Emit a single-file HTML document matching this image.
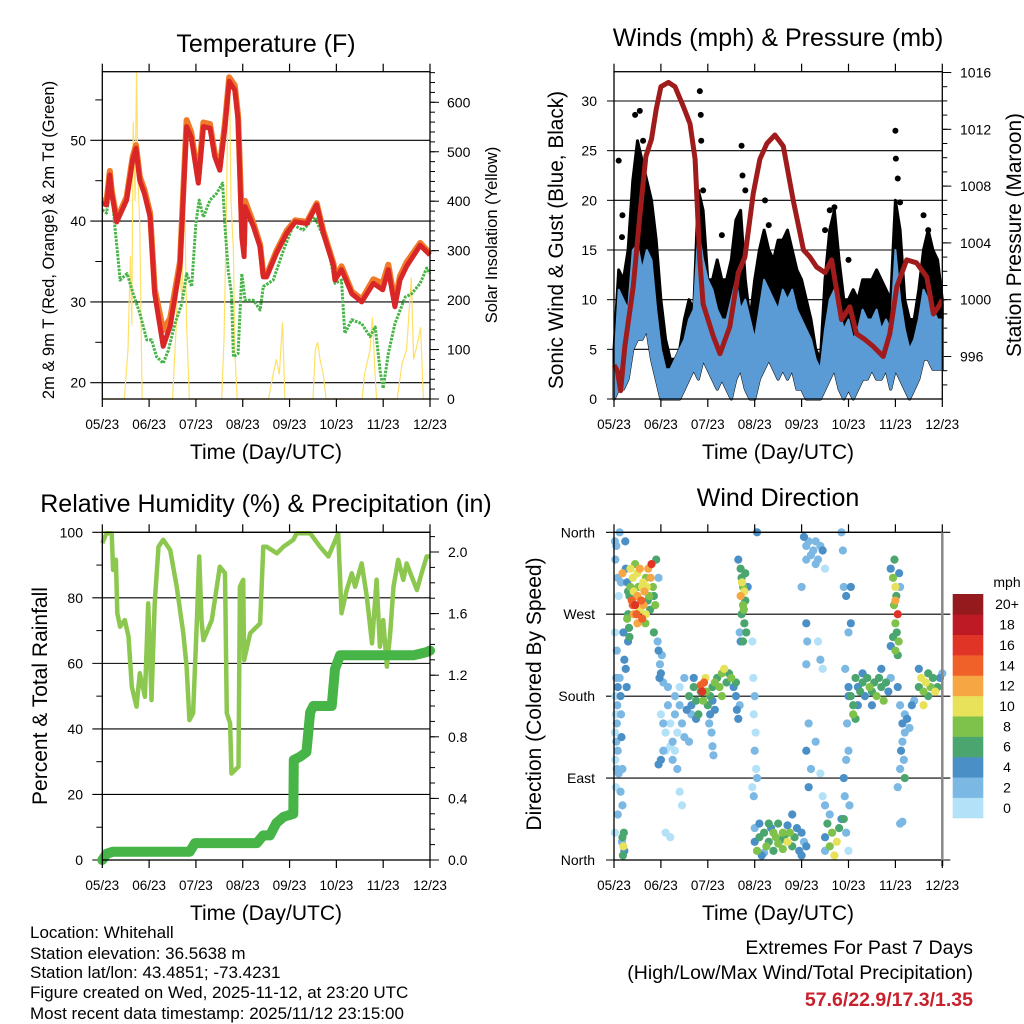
<!DOCTYPE html>
<html><head><meta charset="utf-8">
<style>
html,body{margin:0;padding:0;background:#fff;}
svg{display:block;font-family:"Liberation Sans",Arial,sans-serif;}
</style></head>
<body>
<svg id="chart" width="1024" height="1024" viewBox="0 0 1024 1024">
<g id="titles">
<text x="266" y="52" font-size="25" text-anchor="middle">Temperature (F)</text>
<text x="778" y="46" font-size="25" text-anchor="middle">Winds (mph) &amp; Pressure (mb)</text>
<text x="266" y="512" font-size="25" text-anchor="middle">Relative Humidity (%) &amp; Precipitation (in)</text>
<text x="778" y="506" font-size="25" text-anchor="middle">Wind Direction</text>
<text x="266" y="459" font-size="21" text-anchor="middle">Time (Day/UTC)</text>
<text x="778" y="459" font-size="21" text-anchor="middle">Time (Day/UTC)</text>
<text x="266" y="920" font-size="21" text-anchor="middle">Time (Day/UTC)</text>
<text x="778" y="920" font-size="21" text-anchor="middle">Time (Day/UTC)</text>
<text transform="translate(54,240) rotate(-90)" font-size="16.5" text-anchor="middle">2m &amp; 9m T (Red, Orange) &amp; 2m Td (Green)</text>
<text transform="translate(497,235) rotate(-90)" font-size="16.5" text-anchor="middle">Solar Insolation (Yellow)</text>
<text transform="translate(563,240) rotate(-90)" font-size="20.8" text-anchor="middle">Sonic Wind &amp; Gust (Blue, Black)</text>
<text transform="translate(1021,235) rotate(-90)" font-size="20.8" text-anchor="middle">Station Pressure (Maroon)</text>
<text transform="translate(47,696) rotate(-90)" font-size="21" text-anchor="middle">Percent &amp; Total Rainfall</text>
<text transform="translate(541,694) rotate(-90)" font-size="21" text-anchor="middle">Direction (Colored By Speed)</text>
</g>
<g font-size="17">
<text x="30" y="938">Location: Whitehall</text>
<text x="30" y="959">Station elevation: 36.5638 m</text>
<text x="30" y="978">Station lat/lon: 43.4851; -73.4231</text>
<text x="30" y="998">Figure created on Wed, 2025-11-12, at 23:20 UTC</text>
<text x="30" y="1019">Most recent data timestamp: 2025/11/12 23:15:00</text>
</g>
<g text-anchor="end">
<text x="973" y="954" font-size="19.5">Extremes For Past 7 Days</text>
<text x="973" y="979" font-size="19.5">(High/Low/Max Wind/Total Precipitation)</text>
<text x="973" y="1006" font-size="19.5" font-weight="bold" fill="#c8202c">57.6/22.9/17.3/1.35</text>
</g>
</svg>
<script>
// ---------- data ----------
const monthLabels = ["05/23","06/23","07/23","08/23","09/23","10/23","11/23","12/23"];
// Temperature panel
const tempRedT = [0,0.09,0.16,0.2,0.31,0.52,0.65,0.72,0.8,0.9,1.02,1.12,1.3,1.45,1.66,1.8,1.9,2.05,2.16,2.3,2.4,2.51,2.62,2.71,2.83,2.9,2.98,3.03,3.05,3.23,3.37,3.44,3.51,3.72,3.94,4.12,4.37,4.58,4.72,4.94,4.97,5.11,5.33,5.54,5.79,5.99,6.11,6.25,6.36,6.5,6.79,7];
const tempRedV = [42.2,42,45.7,43.4,39.9,42.6,47.6,49,45,43.4,40.5,31,24.5,27,34.4,51.7,50.4,44.7,51.7,51.5,48,46.3,51.7,57.3,56.2,52.5,38,35.6,41.8,39.3,36.8,33.1,33.1,36,38.5,39.9,39.7,42,38.5,34.4,32.7,34,31,30,32.3,31.5,34,29.4,32.7,34.4,37,35.8];
const tempOrangeV = [42.6,42.4,46.2,43.8,40.2,43,48,49.4,45.5,43.9,41,31.6,26.5,28,35,52.5,51,45.2,52.2,52,48.4,46.8,52.2,57.8,56.8,53,40,37,42.5,39.7,37.1,33.4,33.3,36.3,38.8,40.1,39.9,42.2,38.8,34.7,33,34.4,31.3,30.3,32.8,32.3,34.6,30,33.2,34.9,37.3,36];
const dewT = [0,0.09,0.19,0.27,0.34,0.38,0.53,0.66,0.8,0.95,1.05,1.16,1.3,1.41,1.55,1.7,1.8,1.91,2,2.07,2.16,2.3,2.44,2.57,2.62,2.69,2.76,2.8,2.9,2.98,3.05,3.23,3.37,3.44,3.65,3.87,4.08,4.29,4.54,4.72,4.86,4.97,5.11,5.18,5.33,5.54,5.72,5.83,5.94,6,6.11,6.25,6.47,6.61,6.79,6.93,7];
const dewV = [41.4,41,44.5,39.3,35.2,32.7,33.5,31,28.6,25.3,25.3,23.2,22.4,24,27.3,29.8,33.5,31.9,39.7,42.6,40.5,42.6,43.4,44.7,39.3,33.9,31,23.2,23.6,33.5,30.2,30.2,29,31.9,32.7,36.4,39.5,38.9,40.5,38.1,35.6,32.3,32.7,26.1,27.8,27.3,25.7,26.9,21.2,19.3,23.6,27.3,30.6,31,32.3,34.2,33.5];
const solarT = [0,0.47,0.55,0.6,0.63,0.66,0.7,0.73,0.76,0.8,0.85,1.5,1.58,1.63,1.7,1.75,1.8,1.86,2.55,2.6,2.64,2.68,2.72,2.75,2.8,2.83,2.88,3.55,3.65,3.72,3.78,3.85,3.9,4.5,4.55,4.6,4.65,4.72,4.78,5.55,5.6,5.72,5.77,5.82,5.86,6.3,6.4,6.5,6.6,6.65,6.75,6.8,6.86,7];
const solarV = [0,0,100,290,150,560,400,660,450,350,0,0,150,300,200,480,150,0,0,120,320,580,630,400,300,100,0,0,50,80,50,155,0,0,100,115,80,50,0,0,50,100,165,60,0,0,70,100,245,80,120,145,0,0];
// Wind panel
const windT = [0,0.1,0.2,0.3,0.4,0.5,0.6,0.7,0.8,0.9,1.0,1.1,1.2,1.3,1.4,1.5,1.6,1.7,1.8,1.9,2.0,2.1,2.2,2.3,2.4,2.5,2.6,2.7,2.8,2.9,3.0,3.1,3.2,3.3,3.4,3.5,3.6,3.7,3.8,3.9,4.0,4.1,4.2,4.3,4.4,4.5,4.6,4.7,4.8,4.9,5.0,5.1,5.2,5.3,5.4,5.5,5.6,5.7,5.8,5.9,6.0,6.1,6.2,6.3,6.4,6.5,6.6,6.7,6.8,6.9,7.0];
const windLo = [0,1,1,2,5,6,6,7,4,2,0,0,0,0,0,1,2,3,2,4,3,2,1,2,1,0,2,3,1,0,0,2,3,4,3,2,3,2,3,1,1,0,0,0,0,1,2,3,1,0,1,0,1,2,2,3,2,2,3,1,3,2,1,0,1,2,4,4,3,3,3];
const windHi = [3,11,10,9,15,15.5,13,15,14,9,5,3,3,4,5,6,8,9,17,14,12,11,9,8,8,10,12,9,10,8,6,9,12,11,10,9,11,10,11,9,8,7,6,4,3,7,10,11,9,7,8,6,7,9,8,8,9,7,8,7,15,10,7,5,6,8,11,10,9,8,8];
const gustHi = [5,13,12,15,22,26,24,22,20,16,10,6,4,4,5,8,10,9,21,19,12,12,14,12,12,14,18,19,12,8,12,15,17,15,14,16,16,17,15,13,12,10,8,5,4,12,17,19,14,10,10,11,10,12,12,12,13,12,11,10,20,17,10,8,8,11,15,17,15,14,10];
const gustOutT = [0.1,0.18,0.17,0.45,0.55,0.62,0.85,1.83,1.85,1.86,1.9,2.3,2.72,2.74,2.8,3.22,3.3,4.5,4.6,4.7,5.0,6.0,6.01,6.05,6.1,6.6,6.7];
const gustOutV = [24,18.5,16.3,28.6,29,26,16.5,31,28.6,26,21,16.5,25.5,22.5,21,20,17.5,17,19,19.3,14,27,24.2,22.2,19.8,18.5,17];
const presT = [0,0.07,0.14,0.23,0.41,0.55,0.68,0.8,0.9,1.0,1.16,1.3,1.48,1.62,1.73,1.83,1.9,2.12,2.26,2.47,2.65,2.79,2.97,3.11,3.26,3.43,3.61,3.82,4.04,4.18,4.32,4.5,4.64,4.78,4.85,5.03,5.17,5.35,5.53,5.74,5.88,6.03,6.24,6.45,6.67,6.81,6.92,7];
const presV = [995.4,995,993.6,996.7,1000.9,1005.9,1010.1,1011.3,1013.4,1015,1015.3,1015,1013.6,1012.4,1009.9,1002.8,999.7,997.4,996.2,998.1,1001.9,1003,1007.5,1009.9,1011,1011.6,1010.8,1007,1003.5,1003,1002.3,1001.9,1002.8,1000,998.6,999.5,997.6,997.2,996.7,996,997.6,1000.9,1002.8,1002.6,1001.6,999,999.5,1000];
// RH panel
const rhT = [0,0.09,0.2,0.23,0.29,0.32,0.38,0.48,0.56,0.63,0.73,0.8,0.91,0.98,1.05,1.12,1.2,1.3,1.45,1.59,1.73,1.8,1.86,1.94,2.02,2.07,2.12,2.16,2.34,2.51,2.62,2.66,2.73,2.76,2.91,2.94,3.01,3.03,3.16,3.37,3.44,3.51,3.73,3.87,4.08,4.15,4.44,4.65,4.83,5.04,5.11,5.22,5.33,5.4,5.54,5.65,5.76,5.86,5.93,6,6.08,6.15,6.22,6.32,6.43,6.5,6.72,6.82,6.93,7];
const rhV = [96.7,99.7,99.7,88.5,91.6,75.3,71.2,73.2,68.2,52.9,46.8,57,49.8,78.3,48.8,78.3,95.6,97.7,94.6,83.4,69.2,59,42.7,44.8,73.2,92.6,73.2,67.1,73.2,89.5,87.5,44.8,41.7,26.4,28.5,83.4,85.5,61,69.2,72.2,95.6,95.6,93.6,95.6,97.7,99.7,99.7,95.6,92.6,99.7,75.3,82.4,87.5,83.4,90.5,80.4,66.1,85.5,65.1,73.2,59,69.2,83.4,91.6,85.5,90.5,82.4,87.5,92.6,92.6];
const rainT = [0,0.09,0.23,1.87,1.98,3.3,3.44,3.58,3.72,3.87,4.08,4.09,4.22,4.36,4.44,4.51,4.9,4.97,5.08,6.65,6.93,7];
const rainV = [0,0.04,0.054,0.054,0.11,0.11,0.16,0.16,0.24,0.28,0.3,0.65,0.67,0.7,0.96,1.0,1.0,1.24,1.33,1.33,1.35,1.36];
// Wind direction panel: [time(months), direction(deg, 0=N bottom), speed(mph)]
const windObs = [
[0.02,350,2],[0.05,345,2],[0.03,330,3],[0.08,310,2],[0.1,290,1],[0.02,250,1],[0.06,230,2],[0.05,200,3],[0.08,190,4],[0.03,180,1],[0.07,170,2],[0.04,160,1],[0.06,150,2],[0.02,140,1],[0.05,130,3],[0.08,120,2],[0.03,110,1],[0.06,100,2],[0.1,95,2],[0.04,80,1],[0.08,50,2],[0.02,30,1],[0.12,200,3],[0.14,180,4],[0.15,160,2],[0.16,135,4],[0.18,100,3],[0.2,250,4],[0.22,220,5],[0.25,210,4],[0.27,190,5],[0.12,360,3],[0.24,350,4],[0.18,60,2],[0.14,75,2],
[0.18,25,6],[0.2,15,10],[0.22,10,4],[0.19,5,7],[0.21,30,6],[0.17,20,3],
[0.18,315,12],[0.15,305,3],[0.25,320,4],[0.28,305,5],[0.3,295,7],[0.33,290,6],[0.35,300,8],[0.38,285,15],[0.4,280,14],[0.42,295,10],[0.45,280,16],[0.48,270,14],[0.5,290,12],[0.52,300,9],[0.55,275,10],[0.58,285,15],[0.6,265,14],[0.63,280,13],[0.65,295,12],[0.68,310,9],[0.7,300,11],[0.73,320,12],[0.75,290,8],[0.78,310,13],[0.8,325,17],[0.83,300,9],[0.85,290,7],[0.88,280,8],[0.9,330,6],[0.35,320,11],[0.45,325,9],[0.55,320,13],[0.62,305,11],[0.72,285,7],[0.3,270,6],[0.32,255,6],[0.33,245,7],[0.3,240,5],[0.4,310,10],[0.5,315,11],[0.67,260,8],[0.77,275,6],[0.85,250,7],[0.95,310,3],[0.28,265,8],[0.6,300,10],[0.42,270,13],[0.68,270,11],[0.5,260,12],
[0.95,230,4],[0.98,215,3],[1.0,205,4],[1.02,225,3],[0.97,200,4],[1.05,195,2],[0.93,240,2],
[1.0,160,1],[1.05,150,2],[1.1,140,1],[1.15,170,2],[1.2,150,1],[1.25,130,2],[1.3,160,2],[1.35,140,1],[1.4,170,2],[1.45,150,3],[1.5,135,2],[1.1,120,0],[1.2,125,1],[1.3,120,0],[1.25,110,3],[1.35,100,2],[1.4,75,1],[1.45,60,1],[1.0,110,4],[1.05,120,3],[0.95,105,4],[1.15,190,2],[1.3,180,3],[1.55,165,4],[1.5,200,2],[1.1,30,1],[1.2,25,1],[1.6,130,3],[1.4,190,1],
[1.6,180,6],[1.65,170,5],[1.7,190,6],[1.75,175,7],[1.8,160,6],[1.85,185,7],[1.9,175,8],[1.85,192,14],[1.88,185,16],[1.92,195,14],[1.95,200,11],[1.97,185,8],[1.7,200,4],[1.75,155,4],[1.65,160,3],
[2.0,170,6],[2.05,180,7],[2.1,190,6],[2.15,195,8],[2.2,200,7],[2.25,190,8],[2.3,205,9],[2.35,210,10],[2.4,195,7],[2.45,205,6],[2.5,200,8],[2.55,190,5],[2.6,195,6],[2.1,175,5],[2.3,180,8],
[2.05,160,4],[2.08,140,3],[2.1,125,2],[2.12,115,2],[2.03,150,3],[2.15,165,5],
[2.6,180,4],[2.62,165,4],[2.65,155,4],[2.68,170,3],
[2.65,330,4],[2.7,320,7],[2.72,310,6],[2.75,300,8],[2.78,295,10],[2.7,290,12],[2.75,280,8],[2.72,270,7],[2.8,285,6],[2.78,260,7],[2.68,250,3],[2.75,240,7],[2.82,250,6],[2.85,300,5],[2.8,315,7],[2.73,305,11],[2.77,275,9],[2.7,240,4],
[2.95,240,1],[2.97,200,1],[3.0,180,2],[2.98,160,1],[3.02,140,1],[3.0,120,2],[3.03,100,1],[2.95,80,1],[3.05,360,4],[2.98,70,3],[3.05,90,3],
[3.0,20,5],[3.05,10,8],[3.1,25,6],[3.15,5,4],[3.2,30,7],[3.25,15,8],[3.3,20,6],[3.35,35,5],[3.4,10,7],[3.45,25,9],[3.5,18,8],[3.55,22,7],[3.6,12,8],[3.65,28,6],[3.7,20,10],[3.75,30,8],[3.8,15,7],[3.85,25,6],[3.9,35,4],[3.95,10,5],[4.0,5,4],[4.05,20,3],[3.1,40,4],[3.3,40,6],[3.5,40,7],[3.7,38,5],[3.2,8,3],[3.6,30,9],[4.0,30,5],[4.1,15,4],[3.4,30,8],[3.0,35,2],[3.8,50,4],
[4.05,355,4],[4.1,345,3],[4.15,350,2],[4.2,335,3],[4.25,340,2],[4.3,325,3],[4.35,330,2],[4.4,345,3],[4.45,340,4],[4.1,330,2],[4.3,350,3],[4.0,300,3],[4.5,320,1],
[4.1,260,4],[4.12,240,2],[4.1,215,3],[4.15,150,3],[4.1,120,4],[4.2,100,2],[4.35,240,1],[4.4,220,2],[4.45,210,1],[4.3,130,3],[4.4,95,1],[4.5,60,2],[4.45,70,1],[4.15,80,4],
[4.5,25,4],[4.55,40,6],[4.6,15,8],[4.65,30,9],[4.7,5,10],[4.75,20,11],[4.8,35,7],[4.85,45,5],[4.5,10,3],[4.6,50,3],
[4.88,340,3],[4.9,300,2],[4.95,290,4],[5.0,250,3],[4.93,210,3],[4.97,150,2],[5.0,120,3],[4.95,110,2],[4.9,90,4],[4.92,70,3],[5.02,60,2],[4.9,45,6],[4.95,30,2],[5.05,300,4],[5.05,260,5],[5.0,180,4],[4.85,360,2],[5.0,10,1],
[5.0,190,5],[5.05,180,6],[5.1,170,7],[5.15,200,6],[5.2,190,4],[5.25,185,7],[5.3,195,6],[5.35,180,5],[5.4,200,7],[5.45,190,8],[5.5,185,6],[5.55,195,7],[5.6,180,8],[5.65,200,6],[5.7,190,7],[5.75,175,8],[5.8,195,6],[5.85,185,5],[5.1,160,8],[5.15,155,6],[5.2,170,4],[5.5,170,4],[5.7,210,5],[5.3,205,4],[5.9,200,3],
[5.9,320,5],[5.95,310,8],[6.0,300,10],[6.02,290,7],[5.97,280,9],[6.05,270,16],[6.0,260,8],[6.03,250,7],[5.95,245,6],[6.07,240,9],[6.0,230,8],[6.05,225,7],[5.9,235,4],[6.1,300,3],[6.08,315,4],[6.0,285,12],[5.98,330,6],
[6.05,190,4],[6.1,170,3],[6.15,150,4],[6.2,140,3],[6.12,120,4],[6.18,110,2],[6.1,100,3],[6.2,160,3],[6.25,155,4],[6.3,145,3],[6.35,170,4],[6.4,175,3],[6.15,130,2],[6.2,90,7],[6.1,40,3],[6.15,42,3],[6.05,80,2],
[6.5,190,6],[6.55,200,10],[6.6,185,8],[6.65,195,10],[6.7,180,6],[6.75,190,8],[6.8,200,7],[6.85,185,10],[6.9,190,6],[6.95,200,4],[7.0,205,3],[6.6,170,10],[6.7,205,7],[6.5,210,4]
];
const speedLabels = ["0","2","4","6","8","10","12","14","16","18","20+"];
const speedColors = ["#b3e1f7","#7bb8e3","#4a8fc6","#4aa56f","#7ec14b","#e8e15a","#f6a744","#f06129","#df3426","#bd1a25","#951a1d"];
const dirLabels = ["North","East","South","West","North"];

// ---------- drawing ----------
const NS = "http://www.w3.org/2000/svg";
const svg = document.getElementById("chart");
function el(tag, attrs, parent){
  const e = document.createElementNS(NS, tag);
  for (const k in attrs) e.setAttribute(k, attrs[k]);
  (parent || svg).appendChild(e);
  return e;
}
function lin(d0,d1,r0,r1){ return v => r0 + (v-d0)*(r1-r0)/(d1-d0); }
function pathFrom(xs, ys, sx, sy){
  let d = "";
  for (let i=0;i<xs.length;i++) d += (i?"L":"M") + sx(xs[i]).toFixed(1) + "," + sy(ys[i]).toFixed(1);
  return d;
}
function frame(g, L, T, R, B){
  const r = el("rect",{x:L,y:T,width:R-L,height:B-T,fill:"none",stroke:"#000","stroke-width":1.3},g);
  
  
}
function xAxis(g, sx, T, B, labY){
  for (let i=0;i<monthLabels.length;i++){
    const x = sx(i);
    const t1 = el("line",{x1:x,y1:B,x2:x,y2:B+8,stroke:"#000","stroke-width":1.2},g);
    
    
    const t2 = el("line",{x1:x,y1:T,x2:x,y2:T-8,stroke:"#000","stroke-width":1.2},g);
    
    
    const tx = el("text",{x:x,y:labY,"font-size":13.5,"text-anchor":"middle"},g);
    tx.textContent = monthLabels[i];
    
    
  }
}
function hGrid(g, sy, vals, L, R, ext, extR){
  vals.forEach(v=>{
    const y = sy(v);
    const ln = el("line",{x1:L-ext,y1:y,x2:R+(extR||0),y2:y,stroke:"#000","stroke-width":1.1},g);
    
    
  });
}
function yLabels(g, sy, vals, x, anchor, fmt){
  vals.forEach(v=>{
    const t = el("text",{x:x,y:sy(v)+5,"font-size":14,"text-anchor":anchor},g);
    t.textContent = fmt ? fmt(v) : String(v);
    
    
  });
}
function ticks(g, sy, vals, x, len, name){
  vals.forEach(v=>{
    const y = sy(v);
    const t = el("line",{x1:x,y1:y,x2:x+len,y2:y,stroke:"#000","stroke-width":1},g);
    
    
  });
}
function range(a,b,s){ const r=[]; for(let v=a; v<=b+1e-9; v+=s) r.push(+v.toFixed(4)); return r; }

// ===== Panel 1: Temperature =====
(function(){
  const L=102.3,R=430,T=71.7,B=399;
  const g = el("g",{});
  
  
  const sx = lin(0,7,L,R), sy = lin(20,50,382.7,140.3), sr = lin(0,600,399,102.3);
  hGrid(g, sy, [20,30,40,50], L, R, 12);
  ticks(g, sy, [25,35,45,55], L, -7, 'y-minor-tick');
  ticks(g, sr, range(0,660,20), R, 5, 'y2-minor-tick');
  ticks(g, sr, range(0,600,100), R, 9, 'y2-tick');
  yLabels(g, sy, [20,30,40,50], 86, "end");
  yLabels(g, sr, [0,100,200,300,400,500,600], 447, "start");
  const sol = el("path",{d:pathFrom(solarT,solarV,sx,sr),fill:"none",stroke:"#ffe066","stroke-width":1.2},g);
  
  
  const dew = el("path",{d:pathFrom(dewT,dewV,sx,sy),fill:"none",stroke:"#46b446","stroke-width":3,"stroke-dasharray":"2.5 1.2","stroke-linejoin":"round"},g);
  
  
  const org = el("path",{d:pathFrom(tempRedT,tempOrangeV,sx,sy),fill:"none",stroke:"#f07a2a","stroke-width":6,"stroke-linejoin":"round"},g);
  
  
  const red = el("path",{d:pathFrom(tempRedT,tempRedV,sx,sy),fill:"none",stroke:"#d92626","stroke-width":5,"stroke-linejoin":"round"},g);
  
  
  frame(g,L,T,R,B);
  xAxis(g, sx, T, B, 429);
})();

// ===== Panel 2: Winds & Pressure =====
(function(){
  const L=614,R=942.3,T=71.7,B=399;
  const g = el("g",{});
  
  
  const sx = lin(0,7,L,R), sy = lin(0,30,399,101), sp = lin(1000,1016,299.7,72.5);
  hGrid(g, sy, [0,5,10,15,20,25,30], L, R, 0, 0);
  ticks(g, sy, [0,5,10,15,20,25,30], L, -7, 'y-tick');
  ticks(g, sp, range(994,1016,1), R, 5, 'y2-minor-tick');
  ticks(g, sp, [996,1000,1004,1008,1012,1016], R, 9, 'y2-tick');
  yLabels(g, sy, [0,5,10,15,20,25,30], 597, "end");
  yLabels(g, sp, [996,1000,1004,1008,1012,1016], 960, "start");
  let d = "";
  for (let i=0;i<windT.length;i++) d += (i?"L":"M") + sx(windT[i]).toFixed(1)+","+sy(gustHi[i]).toFixed(1);
  for (let i=windT.length-1;i>=0;i--) d += "L" + sx(windT[i]).toFixed(1)+","+sy(windLo[i]).toFixed(1);
  const gb = el("path",{d:d+"Z",fill:"#000",stroke:"#000","stroke-width":3,"stroke-linejoin":"round"},g);
  
  
  for (let i=0;i<gustOutT.length;i++){
    const c = el("circle",{cx:sx(gustOutT[i]),cy:sy(gustOutV[i]),r:3,fill:"#000"},g);
    
    
  }
  let d2 = "";
  for (let i=0;i<windT.length;i++) d2 += (i?"L":"M") + sx(windT[i]).toFixed(1)+","+sy(windHi[i]).toFixed(1);
  for (let i=windT.length-1;i>=0;i--) d2 += "L" + sx(windT[i]).toFixed(1)+","+sy(windLo[i]).toFixed(1);
  const wb = el("path",{d:d2+"Z",fill:"#5b9bd5",stroke:"#5b9bd5","stroke-width":2,"stroke-linejoin":"round"},g);
  
  
  const pr = el("path",{d:pathFrom(presT,presV,sx,sp),fill:"none",stroke:"#a01c1c","stroke-width":5,"stroke-linejoin":"round"},g);
  
  
  frame(g,L,T,R,B);
  xAxis(g, sx, T, B, 429);
})();

// ===== Panel 3: RH & Precip =====
(function(){
  const L=102.3,R=430,T=532.3,B=860;
  const g = el("g",{});
  
  
  const sx = lin(0,7,L,R), sy = lin(0,100,860,532.3), sr = lin(0,2,860,552);
  hGrid(g, sy, [0,20,40,60,80,100], L, R, 10);
  ticks(g, sy, [10,30,50,70,90], L, -6, 'y-minor-tick');
  ticks(g, sr, range(0,2.1,0.1), R, 5, 'y2-minor-tick');
  ticks(g, sr, [0,0.4,0.8,1.2,1.6,2.0], R, 9, 'y2-tick');
  yLabels(g, sy, [0,20,40,60,80,100], 83, "end");
  yLabels(g, sr, [0,0.4,0.8,1.2,1.6,2.0], 448, "start", v=>v.toFixed(1));
  const rh = el("path",{d:pathFrom(rhT,rhV,sx,sy),fill:"none",stroke:"#8cc850","stroke-width":4.5,"stroke-linejoin":"round"},g);
  
  
  const rn = el("path",{d:pathFrom(rainT,rainV,sx,sr),fill:"none",stroke:"#46b446","stroke-width":10,"stroke-linejoin":"round","stroke-linecap":"round"},g);
  
  
  frame(g,L,T,R,B);
  xAxis(g, sx, T, B, 890);
})();

// ===== Panel 4: Wind direction =====
(function(){
  const L=614,R=942.3,T=532.3,B=860;
  const g = el("g",{});
  
  
  const sx = lin(0,7,L,R), sy = lin(0,360,860,532.3);
  hGrid(g, sy, [0,90,180,270,360], L, R, 8, 8);
  dirLabels.forEach((lab,i)=>{
    const t = el("text",{x:595,y:sy(i*90)+5,"font-size":14,"text-anchor":"end"},g);
    t.textContent = lab;
    
    
  });
  const sorted = windObs.slice().sort((a,b)=>a[2]-b[2]);
  sorted.forEach(o=>{
    const ci = Math.max(0, Math.min(10, Math.floor(o[2]/2)));
    const c = el("circle",{cx:sx(o[0]),cy:sy(o[1]),r:4.1,fill:speedColors[ci]},g);
    
    
  });
  frame(g,L,T,R,B);
  const edge = el("line",{x1:R,y1:T,x2:R,y2:B+6,stroke:"#888","stroke-width":2.5},g);
  
  
  xAxis(g, sx, T, B, 890);
  const cb = el("g",{},g);
  
  
  const h = (818-594)/11;
  for (let i=0;i<11;i++){
    const y = 594 + (10-i)*h;
    const r = el("rect",{x:952.7,y:y,width:30.6,height:h+0.3,fill:speedColors[i]},cb);
    
    
    const t = el("text",{x:1007,y:y+h/2+5,"font-size":14,"text-anchor":"middle"},cb);
    t.textContent = speedLabels[i];
    
    
  }
  const u = el("text",{x:1007,y:587,"font-size":14,"text-anchor":"middle"},cb);
  u.textContent = "mph";
  
  
})();
</script>
</body></html>
